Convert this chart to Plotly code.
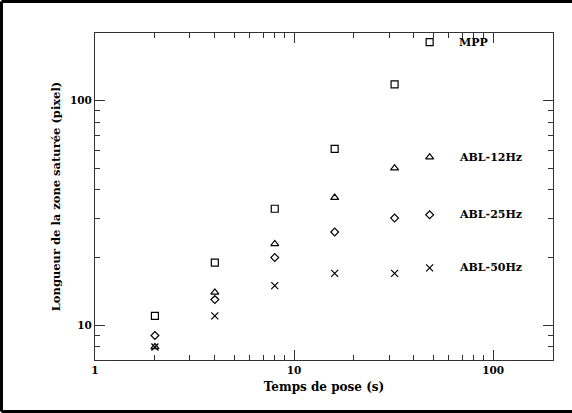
import numpy as np
import plotly.graph_objects as go

# Data
exposure_s = [2, 4, 8, 16, 32, 48]
mpp = [11, 19, 33, 61, 118, 182]
abl_12hz = [8, 14, 23, 37, 50, 56]
abl_25hz = [9, 13, 20, 26, 30, 31]
abl_50hz = [8, 11, 15, 17, 17, 18]
series_names = ["MPP", "ABL-12Hz", "ABL-25Hz", "ABL-50Hz"]
label_x = 66

x_major = [1, 10, 100]
x_minor = [2, 3, 4, 5, 6, 7, 8, 9, 20, 30, 40, 50, 60, 70, 80, 90, 200]
y_major = [10, 100]
y_minor = [7, 8, 9, 20, 30, 40, 50, 60, 70, 80, 90, 200]

FONT = "DejaVu Serif"
AXC = "#333333"

series = [
    (mpp, "square-open", 7),
    (abl_12hz, "triangle-up-open", 7),
    (abl_25hz, "diamond-open", 6),
    (abl_50hz, "x-thin-open", 7),
]

fig = go.Figure()
for (vals, sym, sz), name in zip(series, series_names):
    fig.add_trace(go.Scatter(
        x=exposure_s, y=vals, mode="markers", name=name,
        marker=dict(symbol=sym, size=sz, color="black",
                    line=dict(color="black", width=1.2)),
        showlegend=False,
    ))
    fig.add_annotation(
        x=np.log10(label_x), y=np.log10(vals[-1]), xref="x", yref="y",
        text="<b>" + name + "</b>", showarrow=False, xanchor="left",
        yanchor="middle", font=dict(family=FONT, size=11, color="black"),
    )

axis_common = dict(
    type="log", showgrid=False, zeroline=False, showline=True,
    linecolor=AXC, linewidth=1.2, mirror="ticks", ticks="inside",
    ticklen=10, tickwidth=1.2, tickcolor=AXC,
    tickfont=dict(family=FONT, size=10.5, color="black"),
)

fig.update_xaxes(
    **axis_common, range=[0, np.log10(200)],
    tickmode="array", tickvals=x_major, ticktext=["<b>%d</b>" % v for v in x_major],
    minor=dict(ticks="inside", ticklen=5, tickwidth=1.2, tickcolor=AXC,
               tickmode="array", tickvals=x_minor),
    title=dict(text="<b>Temps de pose (s)</b>", font=dict(family=FONT, size=12, color="black"), standoff=7),
)
fig.update_yaxes(
    **axis_common, range=[np.log10(7), np.log10(200)],
    tickmode="array", tickvals=y_major, ticktext=["<b>%d</b>" % v for v in y_major],
    minor=dict(ticks="inside", ticklen=5, tickwidth=1.2, tickcolor=AXC,
               tickmode="array", tickvals=y_minor),
    title=dict(text="<b>Longueur de la zone saturée (pixel)</b>", font=dict(family=FONT, size=11.5, color="black"), standoff=6),
)

# outer frame (top, left, bottom; right edge is cropped)
L, R, T, B = 95, 19, 33, 53
W, H = 572, 413
pw, ph = W - L - R, H - T - B
def px(xp): return (xp - L) / pw
def py(yp): return (H - B - yp) / ph
frame = dict(color="black", width=3)
fig.add_shape(type="line", xref="paper", yref="paper", x0=px(1.5), x1=px(W + 5), y0=py(1.5), y1=py(1.5), line=frame)
fig.add_shape(type="line", xref="paper", yref="paper", x0=px(1.5), x1=px(1.5), y0=py(1.5), y1=py(411.5), line=frame)
fig.add_shape(type="line", xref="paper", yref="paper", x0=px(1.5), x1=px(W + 5), y0=py(411.5), y1=py(411.5), line=frame)

fig.update_layout(
    width=W, height=H, margin=dict(l=L, r=R, t=T, b=B),
    paper_bgcolor="white", plot_bgcolor="white",
    font=dict(family=FONT, color="black"),
)

fig.write_html("out.html")
